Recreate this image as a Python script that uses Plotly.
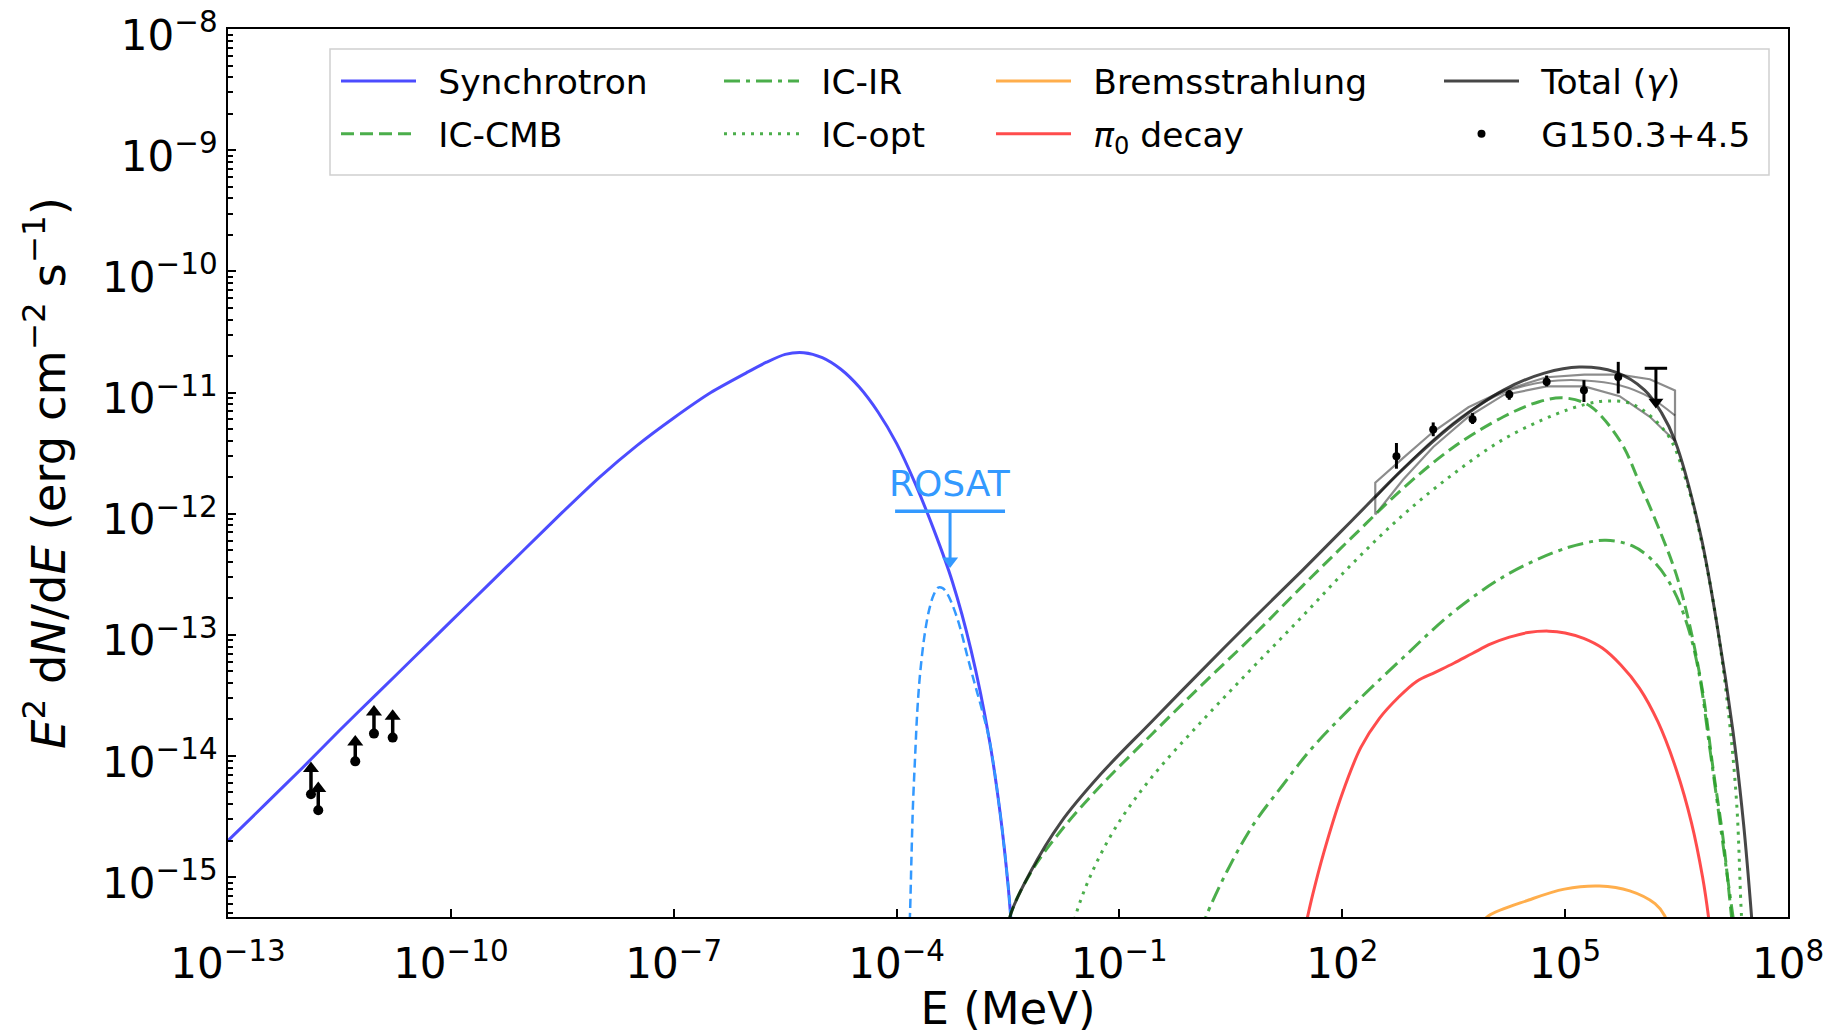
import numpy as np
import plotly.graph_objects as go

# ---------------- data (log10 values) ----------------
# x: log10(E / MeV), y: log10(E^2 dN/dE / erg cm^-2 s^-1)
syn_logE = [-13.0, -12.5, -12.0, -11.5, -11.0, -10.5, -10.0, -9.5, -9.0, -8.5, -8.0, -7.5,
            -7.0, -6.5, -6.0, -5.75, -5.5, -5.25, -5.0, -4.75, -4.5, -4.25, -4.0, -3.75,
            -3.5, -3.25, -3.0, -2.75, -2.6, -2.5, -2.45]
syn_logY = [-14.70, -14.40, -14.10, -13.79, -13.49, -13.19, -12.89, -12.59, -12.29, -11.99,
            -11.70, -11.44, -11.21, -11.00, -10.83, -10.75, -10.685, -10.671, -10.712, -10.808,
            -10.957, -11.161, -11.42, -11.75, -12.13, -12.56, -13.12, -13.87, -14.50, -15.06,
            -15.43]

absyn_logE = [-3.84, -3.82, -3.80, -3.78, -3.75, -3.72, -3.68, -3.62, -3.56, -3.50, -3.44,
              -3.38, -3.32, -3.25, -3.15, -3.05, -2.95, -2.85, -2.75, -2.6, -2.5, -2.45]
absyn_logY = [-15.60, -15.32, -14.85, -14.42, -14.00, -13.62, -13.30, -12.99, -12.79, -12.67,
              -12.61, -12.615, -12.66, -12.75, -12.93, -13.17, -13.40, -13.62, -13.87, -14.50,
              -15.06, -15.43]

cmb_logE = [-2.50, -2.47, -2.20, -1.79, -1.25, -0.57, 0.10, 0.78, 1.46, 2.14, 2.82, 3.50,
            4.17, 4.65, 4.99, 5.33, 5.74, 6.01, 6.28, 6.50, 6.68, 6.86, 6.99, 7.13, 7.24, 7.27]
cmb_logY = [-15.50, -15.32, -14.97, -14.62, -14.245, -13.825, -13.42, -13.02, -12.60, -12.19,
            -11.79, -11.45, -11.20, -11.076, -11.045, -11.11, -11.40, -11.76, -12.15, -12.51,
            -12.93, -13.50, -14.10, -14.70, -15.33, -15.50]

ir_logE = [0.10, 0.17, 0.45, 0.80, 1.20, 1.60, 2.10, 2.80, 3.50, 4.20, 4.85, 5.25, 5.55,
           5.90, 6.20, 6.45, 6.65, 6.80, 6.95, 7.10, 7.26, 7.30]
ir_logY = [-15.45, -15.32, -14.95, -14.57, -14.24, -13.93, -13.61, -13.20, -12.81, -12.51,
           -12.32, -12.245, -12.22, -12.265, -12.40, -12.62, -12.93, -13.31, -13.95, -14.62,
           -15.33, -15.50]

opt_logE = [-1.65, -1.59, -1.39, -1.05, -0.57, 0.10, 0.78, 1.46, 2.14, 2.82, 3.50, 4.17,
            4.85, 5.26, 5.55, 5.92, 6.37, 6.63, 6.86, 7.04, 7.20, 7.31, 7.375, 7.40]
opt_logY = [-15.50, -15.32, -14.99, -14.59, -14.18, -13.72, -13.28, -12.85, -12.41, -12.01,
            -11.67, -11.386, -11.185, -11.10, -11.07, -11.10, -11.34, -11.73, -12.30, -12.90,
            -13.65, -14.40, -15.33, -15.50]

brems_logE = [3.85, 3.97, 4.51, 4.99, 5.46, 5.87, 6.21, 6.34, 6.40]
brems_logY = [-15.40, -15.32, -15.19, -15.10, -15.074, -15.114, -15.22, -15.32, -15.45]

pi0_logE = [1.50, 1.60, 1.75, 2.00, 2.25, 2.50, 2.75, 3.00, 3.25, 3.50, 3.75, 4.00, 4.25,
            4.50, 4.78, 5.00, 5.25, 5.50, 5.75, 6.00, 6.25, 6.50, 6.70, 6.85, 6.93, 6.96]
pi0_logY = [-15.42, -15.15, -14.80, -14.31, -13.93, -13.69, -13.52, -13.385, -13.31, -13.235,
            -13.155, -13.076, -13.02, -12.982, -12.97, -12.985, -13.03, -13.11, -13.25, -13.44,
            -13.72, -14.12, -14.55, -15.00, -15.33, -15.50]

tot_logE = [-2.50, -2.47, -2.20, -1.79, -1.25, -0.57, 0.10, 0.78, 1.46, 2.14, 2.82, 3.50,
            4.17, 4.72, 5.19, 5.67, 6.07, 6.30, 6.48, 6.815, 7.04, 7.26, 7.40, 7.51, 7.53]
tot_logY = [-15.50, -15.32, -14.96, -14.55, -14.15, -13.72, -13.30, -12.88, -12.47, -12.05,
            -11.63, -11.26, -10.98, -10.84, -10.79, -10.83, -10.98, -11.17, -11.40, -12.15,
            -12.90, -13.80, -14.55, -15.33, -15.50]

# Fermi-LAT spectral band (butterfly)
band_logE = [2.444, 2.817, 3.224, 3.698, 4.173, 4.749, 5.258, 5.733, 6.14, 6.479]
band_up = [-11.744, -11.542, -11.324, -11.122, -10.983, -10.874, -10.852, -10.852, -10.89, -10.983]
band_mid = [-11.87, -11.63, -11.39, -11.16, -11.00, -10.91, -10.90, -10.94, -11.04, -11.19]
band_lo = [-12.008, -11.72, -11.45, -11.20, -11.02, -10.95, -10.95, -11.03, -11.20, -11.40]

# G150.3+4.5 gamma-ray data
sed_logE = [2.729, 3.224, 3.754, 4.248, 4.751, 5.253, 5.715]
sed_logY = [-11.526, -11.306, -11.220, -11.017, -10.912, -10.981, -10.871]
sed_hi = [-11.417, -11.247, -11.170, -10.980, -10.860, -10.898, -10.747]
sed_lo = [-11.629, -11.361, -11.260, -11.060, -10.950, -11.078, -11.008]
ul_logE = [6.222]
ul_logY = [-10.800]
ul_tip = [-11.078]

# radio lower limits
radio_logE = [-11.883, -11.785, -11.287, -11.035, -10.783]
radio_logY = [-14.317, -14.449, -14.045, -13.816, -13.849]
radio_tip = [-14.105, -14.270, -13.885, -13.637, -13.673]

# ROSAT upper limit
rosat_logE = [-4.02, -2.54]
rosat_logY = -11.98
rosat_tip = -12.39

xtick_exp = [-13, -10, -7, -4, -1, 2, 5, 8]
ytick_exp = [-15, -14, -13, -12, -11, -10, -9, -8]


def lin(a):
    return [10.0 ** v for v in a]


def sup(e):
    s = str(e).replace("-", "\u2212")
    return "10<sup>" + s + "</sup>"


FONT = "DejaVu Sans"
BLUE = "rgba(0,0,255,0.7)"
GREEN = "rgba(44,160,44,0.85)"
RED = "rgba(255,0,0,0.7)"
ORANGE = "rgba(255,140,0,0.7)"
TOTAL = "rgba(0,0,0,0.72)"
GREY = "rgba(0,0,0,0.45)"
ROSAT = "#3399ff"
SP = "\u2002"

fig = go.Figure()


def curve(logE, logY, name, color, dash="solid", width=3, legend="legend", group=None,
          show=True, smooth=1.0):
    fig.add_trace(go.Scatter(
        x=lin(logE), y=lin(logY), mode="lines", name=name,
        line=dict(color=color, width=width, dash=dash, shape="spline", smoothing=smooth),
        showlegend=show, legend=legend, legendgroup=group, hoverinfo="skip"))


# butterfly band
band_x = lin([band_logE[0]] + band_logE + [band_logE[-1]] + band_logE[::-1])
band_y = lin([band_lo[0]] + band_up + [band_lo[-1]] + band_lo[::-1])
fig.add_trace(go.Scatter(x=band_x, y=band_y, mode="lines", showlegend=False,
                         line=dict(color=GREY, width=2.2), hoverinfo="skip"))
fig.add_trace(go.Scatter(x=lin(band_logE), y=lin(band_mid), mode="lines", showlegend=False,
                         line=dict(color=GREY, width=2, shape="spline"), hoverinfo="skip"))

curve(syn_logE, syn_logY, SP + "Synchrotron", BLUE, legend="legend", group="g1", smooth=0.7)
curve(absyn_logE, absyn_logY, "absorbed", ROSAT, dash="9px,5px", width=2.5, show=False)
curve(cmb_logE, cmb_logY, SP + "IC-CMB", GREEN, dash="13px,6px", legend="legend", group="g2")
curve(ir_logE, ir_logY, SP + "IC-IR", GREEN, dash="16px,6px,4px,6px", legend="legend2",
      group="g3")
curve(opt_logE, opt_logY, SP + "IC-opt", GREEN, dash="3px,6px", legend="legend2", group="g4")
curve(brems_logE, brems_logY, SP + "Bremsstrahlung", ORANGE, legend="legend3", group="g5")
curve(pi0_logE, pi0_logY, SP + "<i>π</i><sub>0</sub> decay", RED, legend="legend3", group="g6")
curve(tot_logE, tot_logY, SP + "Total (<i>γ</i>)", TOTAL, legend="legend4", group="g7")

# ROSAT upper limit
rc = 0.5 * (rosat_logE[0] + rosat_logE[1])
fig.add_trace(go.Scatter(x=lin(rosat_logE), y=lin([rosat_logY, rosat_logY]), mode="lines",
                         line=dict(color=ROSAT, width=3.5), showlegend=False, hoverinfo="skip"))
fig.add_trace(go.Scatter(x=lin([rc, rc]), y=lin([rosat_logY, rosat_tip]), mode="lines",
                         line=dict(color=ROSAT, width=3), showlegend=False, hoverinfo="skip"))
fig.add_trace(go.Scatter(x=lin([rc]), y=lin([rosat_tip]), mode="markers",
                         marker=dict(symbol="triangle-down", size=14, color=ROSAT),
                         showlegend=False, hoverinfo="skip"))
fig.add_annotation(x=rc, y=rosat_logY, xref="x", yref="y", text="ROSAT", showarrow=False,
                   yanchor="bottom", yshift=5, font=dict(family=FONT, size=36, color=ROSAT))

# radio lower limits
for e, v, t in zip(radio_logE, radio_logY, radio_tip):
    fig.add_trace(go.Scatter(x=lin([e, e]), y=lin([v, t]), mode="lines",
                             line=dict(color="black", width=3.5), showlegend=False,
                             hoverinfo="skip"))
fig.add_trace(go.Scatter(x=lin(radio_logE), y=lin(radio_tip), mode="markers",
                         marker=dict(symbol="triangle-up", size=14, color="black"),
                         showlegend=False, hoverinfo="skip"))
fig.add_trace(go.Scatter(x=lin(radio_logE), y=lin(radio_logY), mode="markers",
                         marker=dict(symbol="circle", size=10, color="black"),
                         showlegend=False, hoverinfo="skip"))

# gamma-ray points
sy = np.array(lin(sed_logY))
fig.add_trace(go.Scatter(
    x=lin(sed_logE), y=sy, mode="markers", name=SP + "G150.3+4.5",
    marker=dict(symbol="circle", size=8, color="black"),
    error_y=dict(type="data", symmetric=False, array=np.array(lin(sed_hi)) - sy,
                 arrayminus=sy - np.array(lin(sed_lo)), color="black", thickness=3, width=0),
    legend="legend4", legendgroup="g8", hoverinfo="skip"))
# upper limit
fig.add_trace(go.Scatter(x=lin(ul_logE * 2), y=lin(ul_logY + ul_tip), mode="lines",
                         line=dict(color="black", width=3), showlegend=False, hoverinfo="skip"))
fig.add_trace(go.Scatter(x=lin(ul_logE), y=lin(ul_logY), mode="markers",
                         marker=dict(symbol="line-ew", size=16,
                                     line=dict(color="black", width=3)),
                         showlegend=False, hoverinfo="skip"))
fig.add_trace(go.Scatter(x=lin(ul_logE), y=lin(ul_tip), mode="markers",
                         marker=dict(symbol="triangle-down", size=13, color="black"),
                         showlegend=False, hoverinfo="skip"))

axis_common = dict(
    type="log", showgrid=False, zeroline=False, showline=True, linecolor="black",
    linewidth=2, mirror=True, ticks="inside", ticklen=8, tickwidth=2, tickcolor="black",
    tickfont=dict(family=FONT, size=42, color="black"), automargin=False,
    ticklabeloverflow="allow",
)
fig.update_xaxes(**axis_common, range=[-13, 8], tickmode="array",
                 tickvals=lin(xtick_exp), ticktext=[sup(e) for e in xtick_exp],
                 ticklabelstandoff=9,
                 title=dict(text="E (MeV)", font=dict(family=FONT, size=45, color="black"),
                            standoff=20))
fig.update_yaxes(**axis_common, range=[-15.33, -7.999], tickmode="array",
                 tickvals=lin(ytick_exp), ticktext=[sup(e) for e in ytick_exp],
                 ticklabelstandoff=0, ticklabelshift=6,
                 minor=dict(ticks="inside", ticklen=4.5, tickwidth=1.5, tickcolor="black",
                            dtick="D1", showgrid=False),
                 title=dict(text="<i>E</i><sup>2</sup> d<i>N</i>/d<i>E</i> (erg cm<sup>\u22122</sup> s<sup>\u22121</sup>)",
                            font=dict(family=FONT, size=46.5, color="black"), standoff=22))

# page body has an 8px margin: figure placed at (8, 8)
OFF = 8
L, T, R, B = 228, 29, 1788, 917


def px_x(px):
    return (px - L) / float(R - L)


def px_y(py):
    return (B - py) / float(B - T)


leg_common = dict(font=dict(family=FONT, size=34.5, color="black"), bgcolor="rgba(0,0,0,0)",
                  borderwidth=0, orientation="v", xanchor="left", yanchor="top",
                  tracegroupgap=5, itemwidth=75, y=px_y(52))
fig.update_layout(
    width=1831 - OFF, height=1035 - OFF,
    margin=dict(l=L - OFF, r=1831 - R, t=T - OFF, b=1035 - B),
    plot_bgcolor="white", paper_bgcolor="white",
    font=dict(family=FONT, color="black"),
    legend=dict(**leg_common, x=px_x(336)),
    legend2=dict(**leg_common, x=px_x(719)),
    legend3=dict(**leg_common, x=px_x(991)),
    legend4=dict(**leg_common, x=px_x(1439)),
    shapes=[dict(type="rect", xref="paper", yref="paper", x0=px_x(330), x1=px_x(1769),
                 y0=px_y(175), y1=px_y(49), line=dict(color="#d0d0d0", width=1.5),
                 fillcolor="rgba(255,255,255,0.8)", layer="below")],
)

fig.write_html("out.html")
